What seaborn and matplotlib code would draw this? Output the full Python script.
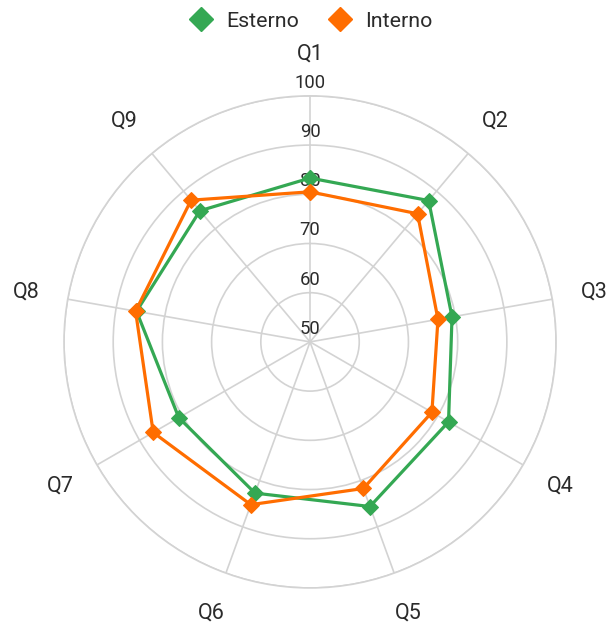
import numpy as np
import pandas as pd
import matplotlib
matplotlib.use("Agg")
import matplotlib.pyplot as plt
from matplotlib.lines import Line2D
import seaborn as sns

categorias = ["Q1", "Q2", "Q3", "Q4", "Q5", "Q6", "Q7", "Q8", "Q9"]
esterno = [83.3, 87.5, 79.3, 82.5, 85.6, 82.7, 80.8, 85.8, 84.8]
interno = [80.5, 84.0, 76.4, 78.6, 81.7, 85.2, 86.8, 86.0, 87.6]
ticks_r = [50, 60, 70, 80, 90, 100]

cor_esterno = "#34A853"
cor_interno = "#FF6D00"
cor_grade = "#d3d3d3"
cor_texto = "#2b2b2b"

sns.set_theme(style="white")
plt.rcParams["font.family"] = ["Roboto", "DejaVu Sans"]

fig = plt.figure(figsize=(6.06, 6.27), dpi=100)
ax = fig.add_axes([0.1056, 0.0622, 0.812, 0.785], projection="polar")
ax.set_theta_zero_location("N")
ax.set_theta_direction(-1)

angulos = np.linspace(0, 2 * np.pi, len(categorias), endpoint=False)

def fechar(valores):
    return list(valores) + [valores[0]]

df = pd.concat([
    pd.DataFrame({"ang": fechar(angulos), "valor": fechar(esterno), "serie": "Esterno"}),
    pd.DataFrame({"ang": fechar(angulos), "valor": fechar(interno), "serie": "Interno"}),
])

for nome, cor in [("Esterno", cor_esterno), ("Interno", cor_interno)]:
    sub = df[df["serie"] == nome]
    sns.lineplot(x=sub["ang"].values, y=sub["valor"].values, ax=ax, sort=False,
                 estimator=None, color=cor, linewidth=2.3, marker="D",
                 markersize=8, markeredgecolor=cor, zorder=3)

ax.set_ylim(50, 100)
ax.set_yticks(ticks_r)
ax.set_yticklabels([])
ax.set_xticks(angulos)
ax.set_xticklabels([])
ax.grid(True, color=cor_grade, linewidth=1.2)
ax.spines["polar"].set_color(cor_grade)
ax.spines["polar"].set_linewidth(1.2)
ax.set_xlabel("")
ax.set_ylabel("")

for v in ticks_r:
    ax.annotate(str(v), xy=(0, v), xytext=(0, 3), textcoords="offset points",
                ha="center", va="bottom", fontsize=13.3, color=cor_texto, zorder=2)

for ang, cat in zip(angulos, categorias):
    ax.text(ang, 108.6, cat, ha="center", va="center", fontsize=15.5, color=cor_texto)

handles = [
    Line2D([], [], linestyle="none", marker="D", markersize=12, color=cor_esterno, label="Esterno"),
    Line2D([], [], linestyle="none", marker="D", markersize=12, color=cor_interno, label="Interno"),
]
leg = fig.legend(handles=handles, loc="center", bbox_to_anchor=(0.505, 0.9665), ncol=2,
                 frameon=False, fontsize=15.4, handlelength=2.0, handletextpad=0.2,
                 columnspacing=0.9, borderpad=0, borderaxespad=0)
for t in leg.get_texts():
    t.set_color(cor_texto)

fig.savefig("out.png", dpi=100)
